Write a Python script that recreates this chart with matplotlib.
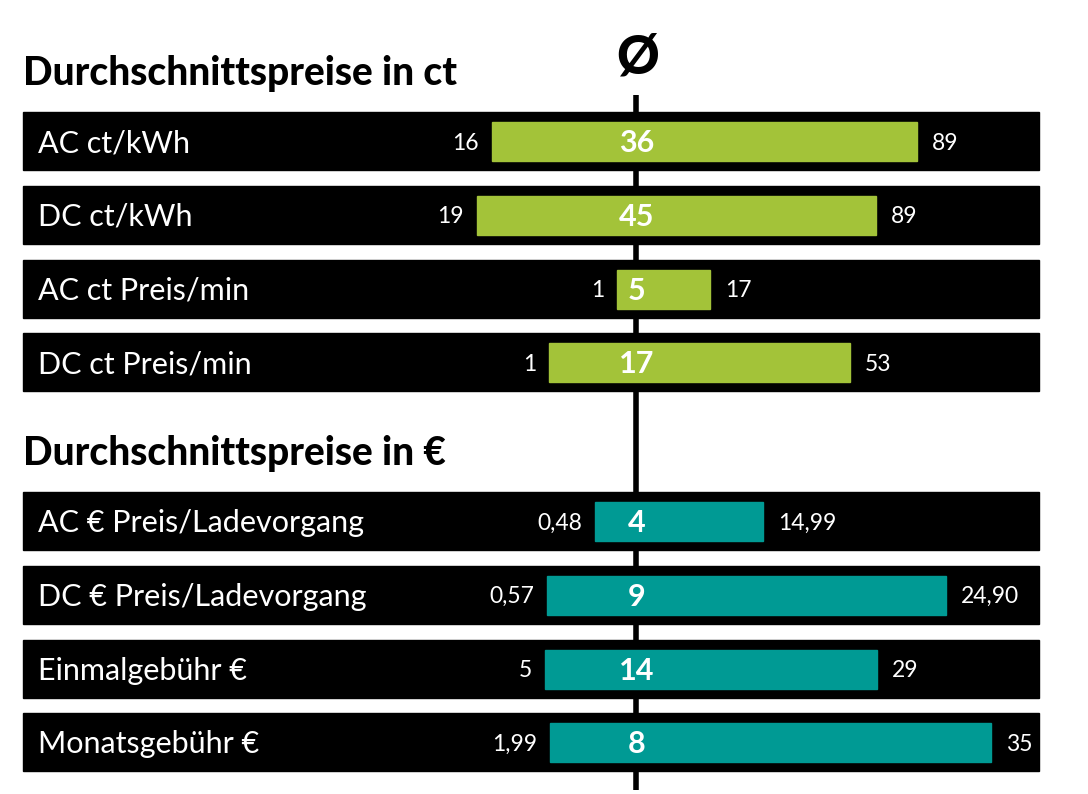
import matplotlib
matplotlib.use("Agg")
import matplotlib.pyplot as plt
from matplotlib.patches import Rectangle

# rows of the chart
labels_ct = ["AC ct/kWh", "DC ct/kWh", "AC ct Preis/min", "DC ct Preis/min"]
min_ct = ["16", "19", "1", "1"]
avg_ct = ["36", "45", "5", "17"]
max_ct = ["89", "89", "17", "53"]
# bar extents as drawn in the graphic (schematic, not to scale)
lo_ct = [492, 477, 617, 549]
hi_ct = [917, 876, 710, 850]

labels_eur = ["AC € Preis/Ladevorgang", "DC € Preis/Ladevorgang",
              "Einmalgebühr €", "Monatsgebühr €"]
min_eur = ["0,48", "0,57", "5", "1,99"]
avg_eur = ["4", "9", "14", "8"]
max_eur = ["14,99", "24,90", "29", "35"]
lo_eur = [595, 547, 545, 550]
hi_eur = [763, 946, 877, 991]

title_ct = "Durchschnittspreise in ct"
title_eur = "Durchschnittspreise in €"

GREEN = "#a3c339"
TEAL = "#009a94"
FONT = ["Lato", "DejaVu Sans"]


def main():
    fig = plt.figure(figsize=(10.88, 7.94), dpi=100)
    ax = fig.add_axes([0, 0, 1, 1])
    ax.set_xlim(0, 1088)
    ax.set_ylim(794, 0)
    ax.axis("off")

    center = 636
    # average line behind everything
    ax.plot([center, center], [95, 790], color="black", lw=4, zorder=1,
            solid_capstyle="butt")
    ax.text(center + 2, 58, "Ø", ha="center", va="center", fontsize=38,
            fontweight="black", family=FONT, color="black")

    def draw_section(top, labels, mins, avgs, maxs, los, his, color):
        for i in range(len(labels)):
            y0 = top + i * 73.8
            ax.add_patch(Rectangle((23, y0), 1016, 58, color="black",
                                   zorder=2))
            ax.add_patch(Rectangle((los[i], y0 + 10), his[i] - los[i], 39,
                                   color=color, zorder=3))
            yc = y0 + 31
            ax.text(38, yc, labels[i], ha="left", va="center", fontsize=22,
                    color="white", family=FONT, zorder=4)
            ax.text(los[i] - 13, yc, mins[i], ha="right", va="center",
                    fontsize=16.5, color="white", family=FONT, zorder=4)
            ax.text(his[i] + 15, yc, maxs[i], ha="left", va="center",
                    fontsize=16.5, color="white", family=FONT, zorder=4)
            ax.text(center + 1, yc, avgs[i], ha="center", va="center",
                    fontsize=22, color="white", family=FONT,
                    fontweight="bold", zorder=4)

    ax.text(23, 73, title_ct, ha="left", va="center", fontsize=28,
            fontweight="black", family=FONT, color="black")
    draw_section(112, labels_ct, min_ct, avg_ct, max_ct, lo_ct, hi_ct, GREEN)

    ax.text(23, 454, title_eur, ha="left", va="center", fontsize=28,
            fontweight="black", family=FONT, color="black")
    draw_section(492, labels_eur, min_eur, avg_eur, max_eur, lo_eur, hi_eur,
                 TEAL)

    fig.savefig("out.png", dpi=100)


if __name__ == "__main__":
    main()
